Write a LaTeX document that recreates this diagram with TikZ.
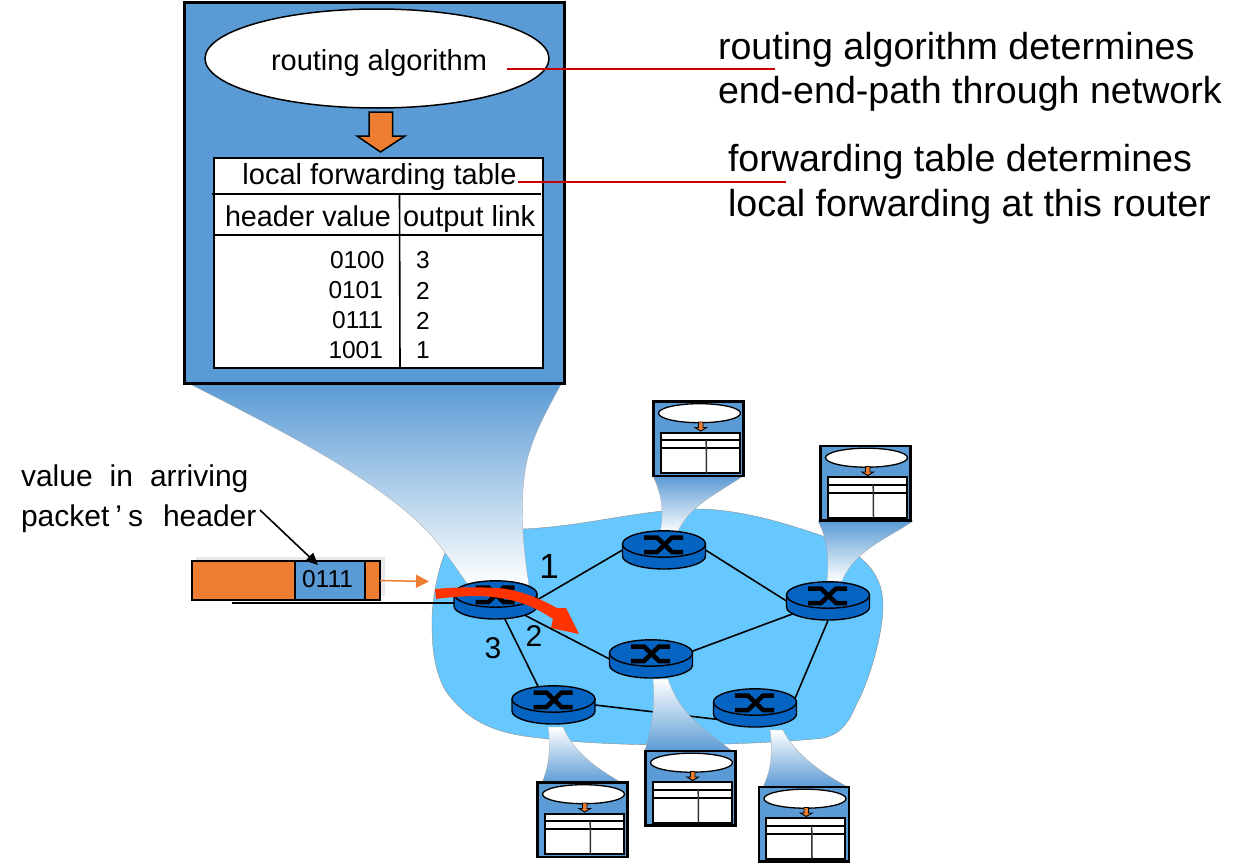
\documentclass[tikz,border=0pt]{standalone}
\usepackage{fontspec}
\setmainfont{Liberation Sans}
\usetikzlibrary{shapes.geometric,arrows.meta,calc}
\definecolor{boxblue}{HTML}{5B9BD5}
\definecolor{pktorange}{HTML}{ED7D31}
\definecolor{cloudblue}{HTML}{66C8FF}
\definecolor{routerblue}{HTML}{0563C1}
\definecolor{redline}{HTML}{C80000}
\definecolor{flowred}{HTML}{FF3300}
\newcommand{\fs}[1]{\fontsize{#1}{#1}\selectfont}
\tikzset{
  every node/.style={outer sep=0pt},
  txt/.style={inner sep=0pt,outer sep=0pt,font=\fs{29},text=black},
  bigtxt/.style={txt,anchor=base west,font=\fs{37.6}},
  cell/.style={txt,font=\fs{24.5}},
  routerspot/.style={inner sep=0pt,outer sep=0pt,shape=ellipse,minimum width=83pt,minimum height=39pt},
  link/.style={draw=black,line width=1.6pt},
  redl/.style={draw=redline,line width=2pt},
  spotdown/.style={top color=boxblue,bottom color=white,draw=black!35,line width=.3pt},
  spotup/.style={top color=white,bottom color=boxblue,draw=black!35,line width=.3pt},
  downarrow/.style={draw=black,fill=pktorange,line join=miter},
  routerpic/.pic={
    \path[draw=black,fill=routerblue,line width=1.4pt]
      (-41.5,-6) -- (-41.5,6) arc[start angle=180,end angle=0,x radius=41.5,y radius=13] -- (41.5,-6) -- cycle;
    \path[draw=black,fill=routerblue,line width=1.4pt] (0,-6) circle[x radius=41.5,y radius=13.2];
    \draw[black,line width=4.5pt] (-20,-12.5) -- (-7,-12.5) -- (8,2) -- (19,2);
    \draw[black,line width=4.5pt] (-20,2) -- (-7,2) -- (8,-12.5) -- (19,-12.5);
  },
  smalltable/.pic={
    \node[draw=black,fill=boxblue,line width=2.4pt,anchor=north west,inner sep=0pt,minimum width=90pt,minimum height=74.5pt] (-box) at (0,0) {};
    \node[draw=black,fill=white,line width=1.3pt,shape=ellipse,inner sep=0pt,minimum width=82pt,minimum height=19pt] (-oval) at (46,11.7) {};
    \path[downarrow,line width=.9pt] (45,20.5) -- (49.5,20.5) -- (49.5,26) -- (53,26) -- (47.2,29.5) -- (41.5,26) -- (45,26) -- cycle;
    \node[draw=black,fill=white,line width=2pt,anchor=north west,inner sep=0pt,minimum width=79pt,minimum height=40.5pt] (-table) at (7.3,31) {};
    \draw[black,line width=2pt] (7.3,38.5) -- (86.3,38.5) (7.3,46.5) -- (86.3,46.5);
    \draw[black!80,line width=1.5pt] (52.7,38.5) -- (53,71.5);
  }
}
\begin{document}
\begin{tikzpicture}[x=1pt,y=-1pt]
\useasboundingbox (0,0) rectangle (1244,862);
% cloud
\path[fill=cloudblue,draw=black!45,line width=.4pt]
  (445,553) .. controls (462,530) and (490,531) .. (523,529)
  .. controls (590,526) and (640,509) .. (700,509)
  .. controls (745,510) and (790,525) .. (820,535)
  .. controls (850,548) and (883,565) .. (883,605)
  .. controls (883,640) and (865,690) .. (857,703)
  .. controls (848,725) and (838,738) .. (815,739)
  .. controls (730,746) and (620,748) .. (540,738)
  .. controls (500,734) and (470,725) .. (445,690)
  .. controls (432,665) and (432,640) .. (432,617)
  .. controls (433,595) and (438,570) .. (445,553) -- cycle;
% router positions
\node[routerspot] (r1) at (495.5,600) {};
\node[routerspot] (r2) at (664,550) {};
\node[routerspot] (r3) at (828,601) {};
\node[routerspot] (r4) at (651,659) {};
\node[routerspot] (r5) at (553.5,705) {};
\node[routerspot] (r6) at (755,708) {};
% links
\draw[link] (r1.east) -- (r2.west);
\draw[link] (r1.center) -- (r4.west);
\draw[link] (r1.center) -- (r5.130);
\draw[link] (r2.east) -- (r3.west);
\draw[link] (r4.10) -- (r3.200);
\draw[link] (r3.south) -- (r6.10);
\draw[link] (r5.east) -- (r6.200);
\coordinate (tail) at (232,603);
\draw[black,line width=1.6pt] (tail) -- (tail -| r1.west);
% spotlights
\shadedraw[spotdown] (190,384) .. controls (290,435) and (400,490) .. (443,550)
  .. controls (452,562) and (460,573) .. (468,585) -- (529,585)
  .. controls (520,530) and (520,480) .. (530,450) .. controls (538,425) and (550,405) .. (561,384) -- cycle;
\shadedraw[spotdown] (653,476) .. controls (662,495) and (664,510) .. (660,533) -- (677,533) .. controls (690,505) and (715,495) .. (743,476) -- cycle;
\shadedraw[spotdown] (818,521) .. controls (828,540) and (829,560) .. (827,581) -- (842,581) .. controls (855,550) and (885,540) .. (913,521) -- cycle;
\shadedraw[spotup] (653,679) .. controls (655,710) and (652,725) .. (645,751) -- (732,751) .. controls (705,730) and (680,715) .. (668,679) -- cycle;
\shadedraw[spotup] (548,727) .. controls (551,750) and (549,765) .. (542,783) -- (622,783) .. controls (600,770) and (575,755) .. (563,727) -- cycle;
\shadedraw[spotup] (770,730) .. controls (773,755) and (771,770) .. (763,787) -- (848,787) .. controls (825,775) and (795,755) .. (783,730) -- cycle;
% routers
\foreach \r in {r1,r2,r3,r4,r5,r6} { \pic at (\r) {routerpic}; }
% small tables
\pic (t1) at (653.5,401.5) {smalltable};
\pic (t2) at (820.5,446) {smalltable};
\pic (t3) at (645.5,751) {smalltable};
\pic (t4) at (537.5,782.5) {smalltable};
\pic (t5) at (759,787) {smalltable};
% big box
\node[draw=black,fill=boxblue,line width=3.6pt,anchor=north west,inner sep=0pt,minimum width=380pt,minimum height=381pt] (bigbox) at (184.5,2.5) {};
\node[draw=black,fill=white,line width=1.5pt,shape=ellipse,inner sep=0pt,minimum width=344pt,minimum height=99pt] (oval) at (377,58.5) {};
\node[txt,anchor=base] (ra) at (379,70.5) {routing algorithm};
\path[downarrow,line width=1.5pt] (369,112) -- (392.5,112) -- (392.5,136) -- (405,136) -- (380.5,152) -- (357,136) -- (369,136) -- cycle;
\node[draw=black,fill=white,line width=2pt,anchor=north west,inner sep=0pt,minimum width=329pt,minimum height=210pt] (table) at (214,158) {};
\draw[black,line width=2pt] (212,193.5) -- (541,193.5);
\draw[black,line width=2pt] (214,235) -- (543,235);
\draw[black,line width=1.6pt] (399.5,193.5) -- (400,368);
\node[txt,anchor=base] (lft) at (379.5,184.5) {local forwarding table};
\node[txt,anchor=base west,font=\fs{28.7}] (hv) at (225,226) {header value};
\node[txt,anchor=base west] (ol) at (403,226) {output link};
\node[cell,anchor=east] (c1) at (384.5,260.5) {0100};
\node[cell,anchor=east] (c2) at (383,290.5) {0101};
\node[cell,anchor=east] (c3) at (383,320.5) {0111};
\node[cell,anchor=east] (c4) at (383,350.5) {1001};
\node[cell] (d1) at (423,260.5) {3};
\node[cell] (d2) at (423,290.5) {2};
\node[cell] (d3) at (423,320.5) {2};
\node[cell] (d4) at (423,350.5) {1};
% right text
\node[bigtxt] (n1) at (718,59) {routing algorithm determines};
\node[bigtxt] (n2) at (718,103) {end-end-path through network};
\node[bigtxt] (n3) at (728,171.7) {forwarding table determines};
\node[bigtxt] (n4) at (728,216.7) {local forwarding at this router};
\coordinate (ra0) at (507,68.7); \coordinate (ra1) at (775,68.7);
\coordinate (ft0) at (518,181.7); \coordinate (ft1) at (786,181.7);
\draw[redl] (ra0) -- (ra1);
\draw[redl] (ft0) -- (ft1);
% packet
\fill[black!9] (196,557) rectangle (385,596);
\node[draw=black,fill=pktorange,line width=2pt,anchor=north west,inner sep=0pt,minimum width=188pt,minimum height=39pt] (pkt) at (192,561) {};
\node[draw=black,fill=boxblue,line width=2pt,anchor=north west,inner sep=0pt,minimum width=70pt,minimum height=39pt] (hdr) at (295,561) {};
\node[cell] (hdrtxt) at (327.5,579) {0111};
\coordinate (pktin) at (429,581.5);
\draw[pktorange,line width=1.5pt,-{Triangle[length=13pt,width=13pt]}] (pkt.east) -- (pktin);
% labels left
\node[txt,anchor=base west,font=\fs{30}] (l1) at (21,486) {value\hspace{17pt}in\hspace{17pt}arriving};
\node[txt,anchor=base west,font=\fs{30}] (l2) at (21,526) {packet\hspace{6pt}’\hspace{6pt}s\hspace{20pt}header};
\coordinate (l2e) at (260,510);
\coordinate (hdrpt) at (318,565);
\draw[black,line width=1.6pt,-{Triangle[length=12pt,width=11pt]}] (l2e) -- (hdrpt);
% port numbers
\node[txt,font=\fs{35}] (p1) at (549,566) {1};
\node[txt,font=\fs{30}] (p2) at (534,636) {2};
\node[txt,font=\fs{30}] (p3) at (493,648) {3};
% flow arrow
\path[fill=flowred] (435,589) .. controls (455,587) and (480,587) .. (497,588)
  .. controls (515,589) and (535,596) .. (557,608) -- (566,608) -- (579,634) -- (551,628) -- (553,619)
  .. controls (535,607) and (517,598) .. (480,596) .. controls (465,596) and (450,597) .. (436,599) -- cycle;
\end{tikzpicture}
\end{document}
